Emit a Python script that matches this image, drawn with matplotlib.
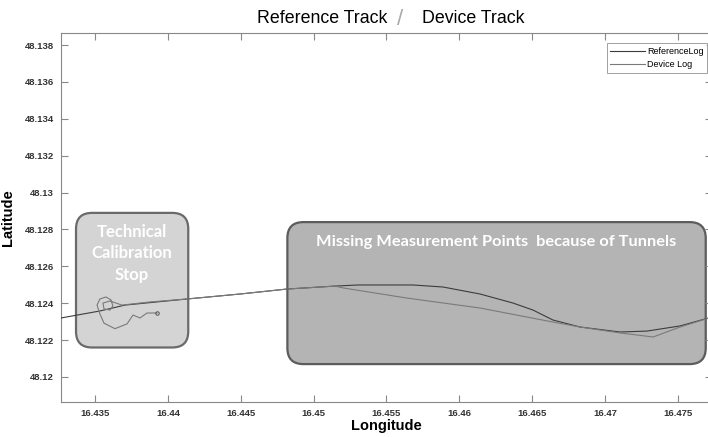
import matplotlib
matplotlib.use("Agg")
import matplotlib.pyplot as plt
from matplotlib.patches import FancyBboxPatch

plt.rcParams["font.family"] = ["Liberation Sans", "DejaVu Sans"]

# reference (smooth) track
ref_lon = [16.43267, 16.43534, 16.43706, 16.44131, 16.44495, 16.44817, 16.45147,
           16.45304, 16.45682, 16.45888, 16.46142, 16.46368, 16.46505, 16.46642,
           16.46828, 16.47102, 16.47287, 16.47514, 16.47733]
ref_lat = [48.12320, 48.12358, 48.12390, 48.12423, 48.12450, 48.12477, 48.12493,
           48.12499, 48.12499, 48.12488, 48.12450, 48.12401, 48.12363, 48.12309,
           48.12271, 48.12244, 48.12249, 48.12277, 48.12325]

# device track (loop at calibration stop, straight segments in tunnels)
dev_lon = [16.43925, 16.43857, 16.43809, 16.43761, 16.43720, 16.43637, 16.43562,
           16.43534, 16.43514, 16.43534, 16.43575, 16.43610, 16.43623, 16.43603,
           16.43562, 16.43555, 16.43603, 16.43685, 16.43877, 16.44131, 16.44495,
           16.44817, 16.45147, 16.45202, 16.45641, 16.46142, 16.46642, 16.46828,
           16.47102, 16.47329, 16.47514, 16.47733]
dev_lat = [48.12347, 48.12347, 48.12320, 48.12336, 48.12288, 48.12262, 48.12292,
           48.12342, 48.12390, 48.12423, 48.12434, 48.12418, 48.12385, 48.12363,
           48.12369, 48.12401, 48.12412, 48.12390, 48.12407, 48.12423, 48.12450,
           48.12477, 48.12493, 48.12483, 48.12428, 48.12374, 48.12298, 48.12271,
           48.12239, 48.12217, 48.12271, 48.12325]

xticks = [16.435, 16.44, 16.445, 16.45, 16.455, 16.46, 16.465, 16.47, 16.475]
yticks = [48.12, 48.122, 48.124, 48.126, 48.128, 48.13, 48.132, 48.134, 48.136, 48.138]

# annotation regions: (lon0, lon1, lat0, lat1, text, text_lat)
regions = [
    (16.4337, 16.4414, 48.1216, 48.1289, "Technical\nCalibration\nStop", 48.1267),
    (16.4482, 16.4769, 48.1207, 48.1284, "Missing Measurement Points  because of Tunnels", 48.1273),
]
region_fill = ["#d4d4d4", "#b4b4b4"]
region_edge = ["#6a6a6a", "#5c5c5c"]
region_font = [12, 11.8]

fig = plt.figure(figsize=(7.08, 4.37), dpi=100)
ax = fig.add_axes([61/708, 35/437, 651/708, 369/437])
ax.set_xlim(16.43267, 16.47733)
ax.set_ylim(48.118644, 48.138655)

# px per data unit, used to keep corners round
aspect = (1/18440) / (1/14575)
for i, (x0, x1, y0, y1, txt, ty) in enumerate(regions):
    box = FancyBboxPatch((x0, y0), x1 - x0, y1 - y0,
                         boxstyle="round,pad=0,rounding_size=0.0011",
                         mutation_aspect=aspect, fc=region_fill[i],
                         ec=region_edge[i], lw=1.6, zorder=1)
    ax.add_patch(box)
    ax.text((x0 + x1) / 2, ty, txt, color="white", fontsize=region_font[i],
            family="Lato", fontweight="bold", ha="center", va="center",
            linespacing=1.45, zorder=2)

ax.plot(ref_lon, ref_lat, color="#3c3c3c", lw=0.8, label="ReferenceLog", zorder=3)
ax.plot(dev_lon, dev_lat, color="#7a7a7a", lw=0.8, label="Device Log", zorder=3)
ax.plot(dev_lon[0], dev_lat[0], marker="o", ms=2.5, mfc="none", mec="#555555",
        mew=0.7, zorder=3)

ax.set_xticks(xticks)
ax.set_xticklabels([f"{v:g}" for v in xticks])
ax.set_yticks(yticks)
ax.set_yticklabels([f"{v:.3f}".rstrip("0").rstrip(".") for v in yticks])
ax.tick_params(direction="in", length=5, width=0.8, colors="#888888",
               labelcolor="#333333", labelsize=6.8, top=True, right=True, pad=5)
for lab in ax.get_xticklabels() + ax.get_yticklabels():
    lab.set_fontweight("bold")
for s in ax.spines.values():
    s.set_color("#888888")
    s.set_linewidth(0.8)

ax.set_xlabel("Longitude", fontsize=10.5, fontweight="bold", labelpad=1)
ax.set_ylabel("Latitude", fontsize=10.5, fontweight="bold")
ax.yaxis.set_label_coords(-0.0707, 0.5)

leg = ax.legend(loc="upper right", bbox_to_anchor=(1.0, 0.985), fontsize=6.5,
                frameon=True, fancybox=False, edgecolor="#888888",
                handlelength=3.8, handletextpad=0.3, borderpad=0.4, labelspacing=0.5)
leg.get_frame().set_linewidth(0.7)

fig.text(0.5466, 0.958, "Reference Track", fontsize=12.8, ha="right", va="center")
fig.text(0.565, 0.955, "/", fontsize=16, color="#aaaaaa", ha="center", va="center")
fig.text(0.596, 0.958, "Device Track", fontsize=12.8, ha="left", va="center")

fig.savefig("out.png", dpi=100)
